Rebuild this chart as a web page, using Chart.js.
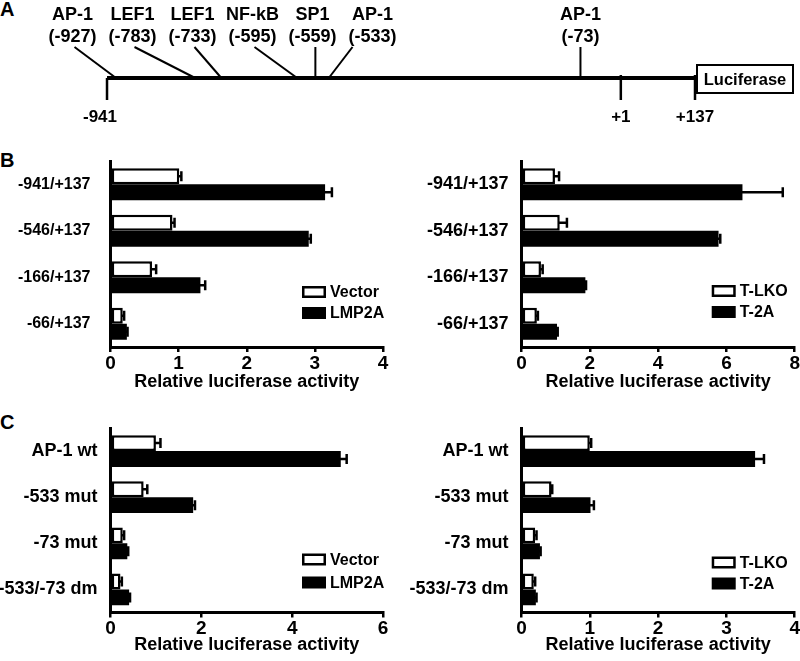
<!DOCTYPE html>
<html><head><meta charset="utf-8">
<script src="https://cdn.jsdelivr.net/npm/chart.js@4.4.1/dist/chart.umd.min.js"></script>
<style>
html,body{margin:0;padding:0;background:#fff;}
body{width:800px;height:661px;position:relative;overflow:hidden;font-family:'Liberation Sans',Arial,sans-serif;}
canvas{position:absolute;}
.pl{position:absolute;font-weight:bold;font-size:20px;line-height:20px;color:#000;}
</style></head><body>
<div class="pl" style="left:0;top:-1px">A</div>
<div class="pl" style="left:0;top:150px">B</div>
<div class="pl" style="left:0;top:412px">C</div>
<canvas id="cA" width="800" height="130" style="left:0;top:0"></canvas>
<canvas id="cBL" width="400" height="270" style="left:0;top:130px"></canvas>
<canvas id="cBR" width="400" height="270" style="left:400px;top:130px"></canvas>
<canvas id="cCL" width="400" height="261" style="left:0;top:400px"></canvas>
<canvas id="cCR" width="400" height="261" style="left:400px;top:400px"></canvas>
<script>
// ---------- Panel A: promoter map ----------
const siteNames = ['AP-1','LEF1','LEF1','NF-kB','SP1','AP-1','AP-1'];
const sitePositions = [-927,-783,-733,-595,-559,-533,-73];
const landmarkPositions = [-941, 1, 137];
const landmarkLabels = ['-941','+1','+137'];
const reporterName = 'Luciferase';

// ---------- Panel B: deletion constructs ----------
const constructsB = ['-941/+137','-546/+137','-166/+137','-66/+137'];
const vectorB     = [1.01, 0.91, 0.61, 0.18];
const vectorBErr  = [0.03, 0.03, 0.06, 0.02];
const lmp2aB      = [3.15, 2.91, 1.32, 0.24];
const lmp2aBErr   = [0.10, 0.03, 0.07, 0.01];
const tlkoB       = [0.98, 1.12, 0.57, 0.45];
const tlkoBErr    = [0.12, 0.21, 0.05, 0.03];
const t2aB        = [6.47, 5.77, 1.87, 1.04];
const t2aBErr     = [1.18, 0.05, 0.02, 0.02];

// ---------- Panel C: AP-1 site mutants ----------
const constructsC = ['AP-1 wt','-533 mut','-73 mut','-533/-73 dm'];
const vectorC     = [1.00, 0.73, 0.27, 0.22];
const vectorCErr  = [0.10, 0.08, 0.03, 0.03];
const lmp2aC      = [5.07, 1.82, 0.37, 0.41];
const lmp2aCErr   = [0.13, 0.04, 0.02, 0.02];
const tlkoC       = [1.00, 0.44, 0.20, 0.18];
const tlkoCErr    = [0.02, 0.01, 0.02, 0.02];
const t2aC        = [3.42, 1.01, 0.27, 0.21];
const t2aCErr     = [0.13, 0.05, 0.01, 0.01];

const xTitle = 'Relative luciferase activity';
const FONT = "'Liberation Sans', Arial, sans-serif";

Chart.defaults.font.family = FONT;
Chart.defaults.font.weight = 'bold';
Chart.defaults.color = '#000';
Chart.defaults.animation = false;

// vertical levels of the map (in y-scale units, 0 = top)
const LV = {name: 15, pos: 37, connTop: 47, main: 78, tickTop: 75, tickBottom: 100, landLabel: 117, boxTop: 65, boxBottom: 93};
const LAB = {start: 72.5, step: 60};

const promoterPlugin = {
  id: 'promoter',
  afterDatasetsDraw(chart) {
    const {ctx, scales: {x, y}} = chart;
    ctx.save();
    ctx.fillStyle = '#000'; ctx.strokeStyle = '#000';
    ctx.textAlign = 'center'; ctx.textBaseline = 'middle';
    ctx.font = 'bold 18px ' + FONT;
    sitePositions.forEach((p, i) => {
      const sx = x.getPixelForValue(p);
      const lx = i < 6 ? LAB.start + i * LAB.step : sx;
      ctx.fillText(siteNames[i], lx, y.getPixelForValue(LV.name));
      ctx.fillText('(' + p + ')', lx, y.getPixelForValue(LV.pos));
      let tx = lx;
      if (Math.abs(sx - lx) < 10) tx = sx; else if (sx < lx) tx = lx - 20; else tx = lx + 2;
      ctx.lineWidth = 2;
      ctx.beginPath();
      ctx.moveTo(tx, y.getPixelForValue(LV.connTop));
      ctx.lineTo(sx, y.getPixelForValue(LV.main) - 1);
      ctx.stroke();
    });
    ctx.font = 'bold 17px ' + FONT;
    landmarkPositions.forEach((p, i) => {
      const off = i === 0 ? -7 : 0;
      ctx.fillText(landmarkLabels[i], x.getPixelForValue(p) + off, y.getPixelForValue(LV.landLabel));
    });
    // reporter box
    const bx = x.getPixelForValue(landmarkPositions[2]) + 2;
    const by = y.getPixelForValue(LV.boxTop), bh = y.getPixelForValue(LV.boxBottom) - by;
    ctx.lineWidth = 2;
    ctx.strokeRect(bx, by, 96, bh);
    ctx.font = 'bold 16.5px ' + FONT;
    ctx.fillText(reporterName, bx + 48, by + bh / 2 + 1);
    ctx.restore();
  }
};

new Chart(document.getElementById('cA'), {
  type: 'line',
  data: {datasets: [
    {data: [{x: landmarkPositions[0], y: LV.main}, {x: landmarkPositions[2], y: LV.main}], borderColor: '#000', borderWidth: 4, pointRadius: 0},
    ...landmarkPositions.map((p, i) => ({data: [{x: p, y: i === 0 ? LV.main : LV.tickTop}, {x: p, y: LV.tickBottom}], borderColor: '#000', borderWidth: 2.5, pointRadius: 0})),
    ...sitePositions.filter((p, i) => i === 4 || i === 6).map(p => ({data: [{x: p, y: LV.main}], pointRadius: 0}))
  ]},
  options: {
    responsive: false, animation: false, layout: {padding: 0},
    plugins: {legend: {display: false}, tooltip: {enabled: false}},
    scales: {
      x: {type: 'linear', display: false, min: -1137.2, max: 329.5},
      y: {type: 'linear', display: false, min: 0, max: 130, reverse: true}
    }
  },
  plugins: [promoterPlugin]
});

// ---------- bar chart helpers ----------
const errorBars = {
  id: 'errorBars',
  afterDatasetsDraw(chart) {
    const ctx = chart.ctx, xs = chart.scales.x;
    ctx.save(); ctx.strokeStyle = '#000'; ctx.lineWidth = 2.5;
    chart.data.datasets.forEach((ds, i) => {
      const meta = chart.getDatasetMeta(i);
      meta.data.forEach((bar, j) => {
        const v = ds.data[j], e = ds.errors[j];
        const x0 = xs.getPixelForValue(v), x1 = xs.getPixelForValue(v + e), yc = bar.y;
        ctx.beginPath();
        ctx.moveTo(x0 - 1, yc); ctx.lineTo(x1, yc);
        ctx.moveTo(x1, yc - 5); ctx.lineTo(x1, yc + 5);
        ctx.stroke();
      });
    });
    ctx.restore();
  }
};

const boxLegend = {
  id: 'boxLegend',
  afterDraw(chart, args, opts) {
    const {ctx, chartArea} = chart;
    ctx.save();
    ctx.font = 'bold 16px ' + FONT;
    ctx.textAlign = 'left'; ctx.textBaseline = 'middle';
    chart.data.datasets.forEach((ds, i) => {
      const bx = chartArea.right - opts.right;
      const cy = chartArea.bottom - opts.bottom + i * opts.gap;
      ctx.fillStyle = ds.backgroundColor;
      ctx.fillRect(bx, cy - 6, 24, 12);
      if (ds.borderWidth) {
        ctx.strokeStyle = '#000'; ctx.lineWidth = 2.5;
        ctx.strokeRect(bx + 1.25, cy - 6 + 1.25, 24 - 2.5, 12 - 2.5);
      }
      ctx.fillStyle = '#000';
      ctx.fillText(ds.label, bx + 28, cy + 1);
    });
    ctx.restore();
  }
};

function barChart(id, cats, sets, cfg) {
  return new Chart(document.getElementById(id), {
    type: 'bar',
    data: {labels: cats, datasets: sets.map((s, k) => ({
      label: s.label, data: s.values, errors: s.errors,
      backgroundColor: k === 0 ? '#ffffff' : '#000000', borderColor: '#000',
      borderWidth: k === 0 ? 2.5 : 0, borderSkipped: false,
      categoryPercentage: 0.69, barPercentage: 1.0
    }))},
    options: {
      indexAxis: 'y', responsive: false, animation: false,
      layout: {padding: {left: 0, top: cfg.top, right: cfg.right, bottom: 0}},
      plugins: {legend: {display: false}, tooltip: {enabled: false},
        boxLegend: {right: cfg.legRight, bottom: cfg.legBottom, gap: cfg.legGap}},
      scales: {
        y: {type: 'category', grid: {display: false, drawTicks: false},
          border: {display: true, width: 3, color: '#000'},
          ticks: {font: {size: cfg.catSize, weight: 'bold'}, color: '#000', padding: cfg.catPad},
          afterFit(s) { s.width = cfg.left; }},
        x: {type: 'linear', min: 0, max: cfg.max,
          ticks: {stepSize: cfg.step, font: {size: 19, weight: 'bold'}, color: '#000', padding: 0, maxRotation: 0},
          grid: {display: true, drawOnChartArea: false, drawTicks: true, tickLength: 5, color: '#000', lineWidth: 2.5},
          border: {display: true, width: 3, color: '#000'},
          title: {display: true, text: xTitle, font: {size: 18, weight: 'bold'}, color: '#000', padding: {top: 0, bottom: cfg.titlePad}},
          afterFit(s) { s.height = cfg.axisH; }}
      }
    },
    plugins: [errorBars, boxLegend]
  });
}

barChart('cBL', constructsB, [
  {label: 'Vector', values: vectorB, errors: vectorBErr},
  {label: 'LMP2A', values: lmp2aB, errors: lmp2aBErr}
], {left: 110.5, top: 31, right: 17, axisH: 53, titlePad: 7, catSize: 16, catPad: 20, max: 4, step: 1, legRight: 81, legBottom: 55, legGap: 21});

barChart('cBR', constructsB, [
  {label: 'T-LKO', values: tlkoB, errors: tlkoBErr},
  {label: 'T-2A', values: t2aB, errors: t2aBErr}
], {left: 121.5, top: 31, right: 4, axisH: 53, titlePad: 7, catSize: 18, catPad: 13, max: 8, step: 2, legRight: 83, legBottom: 56, legGap: 21});

barChart('cCL', constructsC, [
  {label: 'Vector', values: vectorC, errors: vectorCErr},
  {label: 'LMP2A', values: lmp2aC, errors: lmp2aCErr}
], {left: 110.5, top: 28, right: 17, axisH: 48.5, titlePad: 5, catSize: 18, catPad: 13, max: 6, step: 2, legRight: 81, legBottom: 53, legGap: 23});

barChart('cCR', constructsC, [
  {label: 'T-LKO', values: tlkoC, errors: tlkoCErr},
  {label: 'T-2A', values: t2aC, errors: t2aCErr}
], {left: 121.5, top: 28, right: 4, axisH: 48.5, titlePad: 5, catSize: 18, catPad: 13, max: 4, step: 1, legRight: 83, legBottom: 50, legGap: 21});
</script>
</body></html>
